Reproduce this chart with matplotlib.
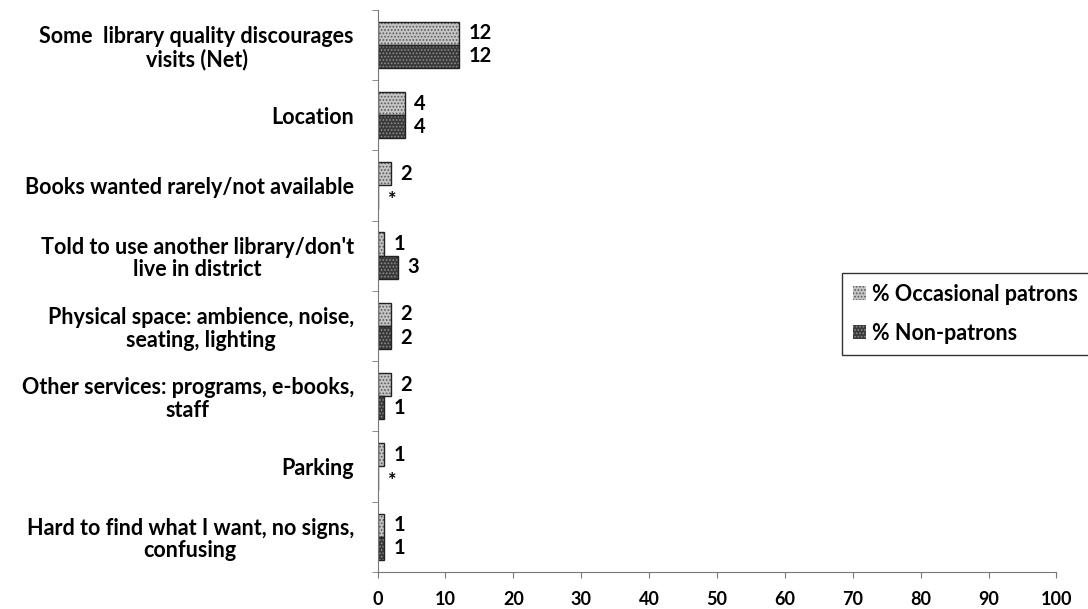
import matplotlib.pyplot as plt
import numpy as np

categories = [
    "Some  library quality discourages\nvisits (Net)",
    "Location",
    "Books wanted rarely/not available",
    "Told to use another library/don't\nlive in district",
    "Physical space: ambience, noise,\nseating, lighting",
    "Other services: programs, e-books,\nstaff",
    "Parking",
    "Hard to find what I want, no signs,\nconfusing",
]
occasional = [12, 4, 2, 1, 2, 2, 1, 1]
non_patrons = [12, 4, 0, 3, 2, 1, 0, 1]
occasional_labels = ["12", "4", "2", "1", "2", "2", "1", "1"]
non_patron_labels = ["12", "4", "*", "3", "2", "1", "*", "1"]
xticks = list(range(0, 101, 10))

plt.rcParams['font.family'] = ['Lato', 'DejaVu Sans']
plt.rcParams['hatch.linewidth'] = 0.8

fig = plt.figure(figsize=(10.88, 6.09), dpi=100)
ax = fig.add_axes([0.347, 0.061, 0.624, 0.923])

y = np.arange(len(categories))
h = 0.33
bars1 = ax.barh(y - h / 2, occasional, height=h, color='#c4c4c4', hatch='.....',
                edgecolor='#5a5a5a', linewidth=0.0, label='% Occasional patrons')
bars2 = ax.barh(y + h / 2, non_patrons, height=h, color='#3a3a3a', hatch='.....',
                edgecolor='#8a8a8a', linewidth=0.0, label='% Non-patrons')
# dark outlines drawn on top of the hatched fills
ax.barh(y - h / 2, occasional, height=h, fill=False, edgecolor='#222222', linewidth=1.0)
ax.barh(y + h / 2, non_patrons, height=h, fill=False, edgecolor='#222222', linewidth=1.0)

for i in range(len(categories)):
    ax.text(occasional[i] + 1.4, y[i] - h / 2, occasional_labels[i], va='center', ha='left',
            fontsize=14.5, fontweight='bold')
    if non_patron_labels[i] == '*':
        ax.text(non_patrons[i] + 2.0, y[i] + h / 2 + 0.05, '*', va='center', ha='center',
                fontsize=14.5, fontweight='bold')
    else:
        ax.text(non_patrons[i] + 1.4, y[i] + h / 2, non_patron_labels[i], va='center', ha='left',
                fontsize=14.5, fontweight='bold')

ax.set_xlim(0, 100)
ax.set_ylim(len(categories) - 0.5, -0.5)
ax.set_xticks(xticks)
ax.set_xticklabels([str(t) for t in xticks], fontsize=13, fontweight='bold')
ax.set_yticks(y)
ax.set_yticklabels(categories, fontsize=15.5, fontweight='bold', linespacing=1.1)
ax.set_yticks(np.arange(len(categories) + 1) - 0.5, minor=True)
ax.tick_params(axis='y', which='major', length=0, pad=17)
ax.tick_params(axis='y', which='minor', length=4, color='#777777', direction='out')
ax.tick_params(axis='x', which='major', length=4, color='#777777', direction='out', pad=10)
for lbl in ax.get_yticklabels():
    lbl.set_horizontalalignment('right')
    lbl.set_multialignment('center')

ax.spines['top'].set_visible(False)
ax.spines['right'].set_visible(False)
ax.spines['left'].set_color('#777777')
ax.spines['bottom'].set_color('#777777')
ax.spines['left'].set_linewidth(0.8)
ax.spines['bottom'].set_linewidth(0.8)

leg = fig.legend(handles=[bars1, bars2], loc='upper left', bbox_to_anchor=(0.774, 0.552),
                 frameon=True, fancybox=False, edgecolor='black',
                 prop={'weight': 'bold', 'size': 15.5}, handlelength=0.6, handleheight=0.6,
                 handletextpad=0.3, labelspacing=0.85, borderpad=0.5, borderaxespad=0)
leg.get_frame().set_linewidth(1.0)

fig.savefig('out.png', dpi=100)
